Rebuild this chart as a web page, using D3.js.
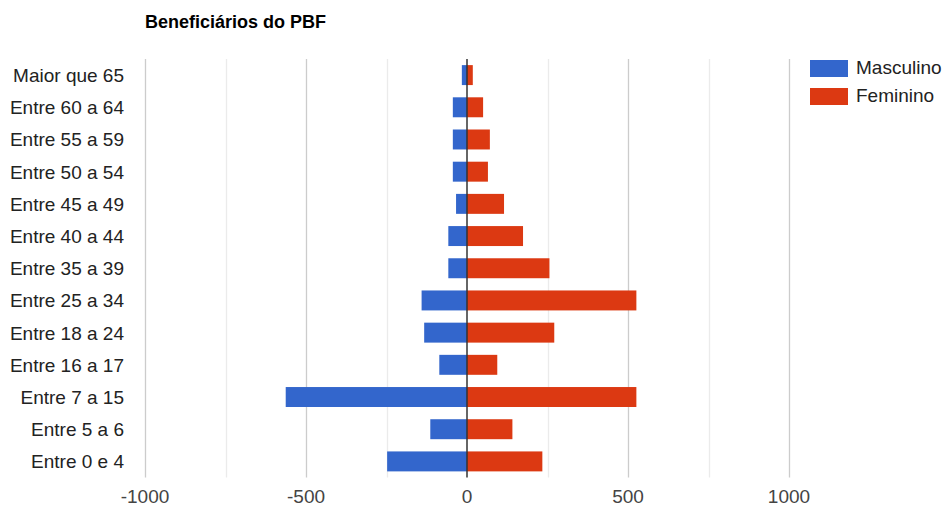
<!DOCTYPE html>
<html>
<head>
<meta charset="utf-8">
<script src="https://cdn.jsdelivr.net/npm/d3@7"></script>
<style>
  html, body { margin: 0; padding: 0; background: #fff; }
  svg { display: block; font-family: Arial, "Liberation Sans", sans-serif; }
</style>
</head>
<body>
<svg id="chart" width="945" height="506"></svg>
<script>
const title = "Beneficiários do PBF";
const categories = ["Maior que 65", "Entre 60 a 64", "Entre 55 a 59", "Entre 50 a 54", "Entre 45 a 49",
  "Entre 40 a 44", "Entre 35 a 39", "Entre 25 a 34", "Entre 18 a 24", "Entre 16 a 17",
  "Entre 7 a 15", "Entre 5 a 6", "Entre 0 e 4"];
const masculino = [-16, -44, -44, -44, -34, -58, -58, -141, -133, -86, -563, -114, -248];
const feminino  = [18, 50, 71, 65, 115, 174, 256, 526, 271, 94, 526, 141, 234];
const seriesNames = ["Masculino", "Feminino"];
const seriesColors = ["#3366cc", "#dc3912"];
const xTicks = [-1000, -750, -500, -250, 0, 250, 500, 750, 1000];
const xTickLabels = ["-1000", "", "-500", "", "0", "", "500", "", "1000"];

const svg = d3.select("#chart");
const x = d3.scaleLinear().domain([-1000, 1000]).range([145, 789]);
const y = d3.scaleBand().domain(categories).range([59, 477.5]).paddingInner(0.38).paddingOuter(0.19);

// title
svg.append("text").attr("x", 145).attr("y", 28)
  .attr("font-size", 18).attr("font-weight", "bold").attr("fill", "#000").text(title);

// gridlines
svg.append("g").selectAll("line").data(xTicks.filter(d => d !== 0)).join("line")
  .attr("x1", d => Math.round(x(d)) + 0.5).attr("x2", d => Math.round(x(d)) + 0.5)
  .attr("y1", 59).attr("y2", 477.5)
  .attr("stroke", d => d % 500 === 0 ? "#cccccc" : "#ebebeb").attr("stroke-width", 1.3);

// bars
const bars = svg.append("g");
bars.selectAll("rect.m").data(categories).join("rect").attr("class", "m")
  .attr("x", (d, i) => x(masculino[i])).attr("width", (d, i) => x(0) - x(masculino[i]))
  .attr("y", d => y(d)).attr("height", y.bandwidth()).attr("fill", seriesColors[0]);
bars.selectAll("rect.f").data(categories).join("rect").attr("class", "f")
  .attr("x", x(0)).attr("width", (d, i) => x(feminino[i]) - x(0))
  .attr("y", d => y(d)).attr("height", y.bandwidth()).attr("fill", seriesColors[1]);

// zero baseline
svg.append("line").attr("x1", x(0)).attr("x2", x(0)).attr("y1", 59).attr("y2", 477.5)
  .attr("stroke", "#333").attr("stroke-width", 1.5);

// category labels
svg.append("g").selectAll("text").data(categories).join("text")
  .attr("x", 124).attr("y", d => y(d) + y.bandwidth() / 2 + 7)
  .attr("text-anchor", "end").attr("font-size", 19).attr("fill", "#222").text(d => d);

// x tick labels
svg.append("g").selectAll("text").data(xTicks).join("text")
  .attr("x", d => x(d)).attr("y", 503).attr("text-anchor", "middle")
  .attr("font-size", 19).attr("fill", "#444").text((d, i) => xTickLabels[i]);

// legend
const lg = svg.append("g").selectAll("g").data(seriesNames).join("g")
  .attr("transform", (d, i) => `translate(810, ${60 + i * 28})`);
lg.append("rect").attr("width", 38).attr("height", 17).attr("fill", (d, i) => seriesColors[i]);
lg.append("text").attr("x", 46).attr("y", 14).attr("font-size", 19).attr("fill", "#222").text(d => d);
</script>
</body>
</html>
